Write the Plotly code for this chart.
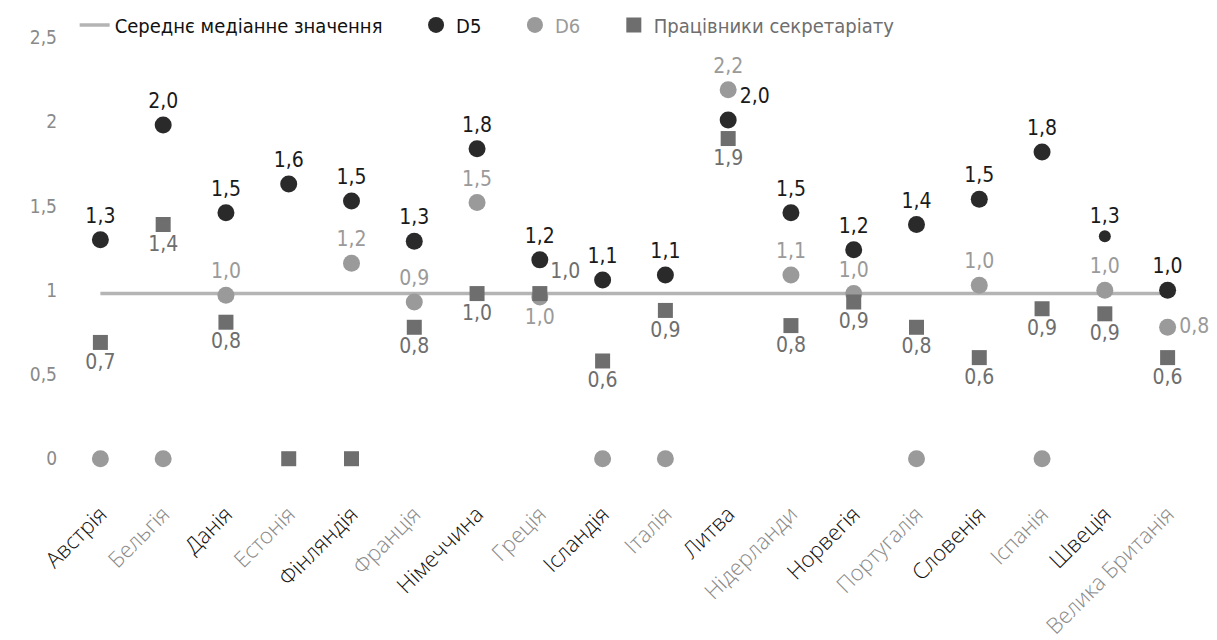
import plotly.graph_objects as go

countries = ["Австрія", "Бельгія", "Данія", "Естонія", "Фінляндія", "Франція",
             "Німеччина", "Греція", "Ісландія", "Італія", "Литва", "Нідерланди",
             "Норвегія", "Португалія", "Словенія", "Іспанія", "Швеція", "Велика Британія"]
d5 = [1.30, 1.98, 1.46, 1.63, 1.53, 1.29, 1.84, 1.18, 1.06, 1.09, 2.01, 1.46,
      1.24, 1.39, 1.54, 1.82, 1.32, 1.00]
d6 = [0, 0, 0.97, None, 1.16, 0.93, 1.52, 0.96, 0, 0, 2.19, 1.09,
      0.98, 0, 1.03, 0, 1.00, 0.78]
staff = [0.69, 1.39, 0.81, 0, 0, 0.78, 0.98, 0.98, 0.58, 0.88, 1.90, 0.79,
         0.93, 0.78, 0.60, 0.89, 0.86, 0.60]
median_value = 0.98
y_ticks = [0, 0.5, 1, 1.5, 2, 2.5]
y_tick_text = ["0", "0,5", "1", "1,5", "2", "2,5"]

NARROW = "DejaVu Sans Condensed, Liberation Sans Narrow, sans-serif"
C_D5 = "#2a2a2a"
C_D6 = "#9a9a9a"
C_ST = "#6e6e6e"
C_MED = "#b4b4b4"
PAD = "\u00a0" * 5


def fmt(v):
    if v is None or v == 0:
        return ""
    return f"{v:.1f}".replace(".", ",")


d5_pos = ["top center"] * len(countries)
d5_pos[countries.index("Литва")] = "top right"
d6_pos = ["top center"] * len(countries)
d6_pos[countries.index("Греція")] = "bottom center"
d6_pos[countries.index("Велика Британія")] = "middle right"
st_pos = ["bottom center"] * len(countries)
st_pos[countries.index("Греція")] = "top right"
d5_size = [12 if c == "Швеція" else 17 for c in countries]

tick_text = [f"<span style='color:{'#111111' if i % 2 == 0 else '#8a8a8a'}'>{c}</span>"
             for i, c in enumerate(countries)]

fig = go.Figure()
fig.add_trace(go.Scatter(
    x=[countries[0], countries[-1]], y=[median_value, median_value], mode="lines",
    line=dict(color=C_MED, width=3.5),
    name=f"<span style='color:#111111'>Середнє медіанне значення</span>{PAD}",
))
fig.add_trace(go.Scatter(
    x=countries, y=d5, mode="markers+text", name=f"<span style='color:#111111'>D5</span>{PAD}",
    marker=dict(color=C_D5, size=d5_size, symbol="circle", opacity=1,
                line=dict(width=0)),
    text=[fmt(v) for v in d5], textposition=d5_pos, cliponaxis=False,
    textfont=dict(family=NARROW, size=21, color="#1a1a1a"),
))
fig.add_trace(go.Scatter(
    x=countries, y=d6, mode="markers+text", name=f"<span style='color:{C_D6}'>D6</span>{PAD}",
    marker=dict(color=C_D6, size=17, symbol="circle", opacity=1, line=dict(width=0)),
    text=[fmt(v) for v in d6], textposition=d6_pos, cliponaxis=False,
    textfont=dict(family=NARROW, size=21, color=C_D6),
))
fig.add_trace(go.Scatter(
    x=countries, y=staff, mode="markers+text",
    name=f"<span style='color:{C_ST}'>Працівники секретаріату</span>",
    marker=dict(color=C_ST, size=15, symbol="square", opacity=1, line=dict(width=0)),
    text=[fmt(v) for v in staff], textposition=st_pos, cliponaxis=False,
    textfont=dict(family=NARROW, size=21, color=C_ST),
))

fig.update_layout(
    width=1209, height=632,
    margin=dict(l=61, r=18, t=21, b=156, autoexpand=False),
    paper_bgcolor="white", plot_bgcolor="white",
    showlegend=True,
    legend=dict(orientation="h", x=0.005, xanchor="left", y=1.009, yanchor="middle",
                font=dict(family=NARROW, size=20), itemwidth=30,
                bgcolor="rgba(0,0,0,0)"),
    xaxis=dict(type="category", categoryorder="array", categoryarray=countries,
               range=[-0.5, len(countries) - 0.5], automargin=False,
               tickmode="array", tickvals=countries, ticktext=tick_text,
               tickangle=-45,
               tickfont=dict(family="Open Sans, sans-serif", size=22, weight=300),
               showgrid=False, zeroline=False, showline=False, ticks="",
               ticklabelstandoff=12),
    yaxis=dict(range=[-0.15, 2.55], tickmode="array", tickvals=y_ticks, automargin=False,
               ticktext=y_tick_text, tickfont=dict(family=NARROW, size=19, color="#8a8a8a"),
               showgrid=False, zeroline=False, showline=False, ticks="", ticklabelstandoff=11),
)

fig.write_html("out.html")
